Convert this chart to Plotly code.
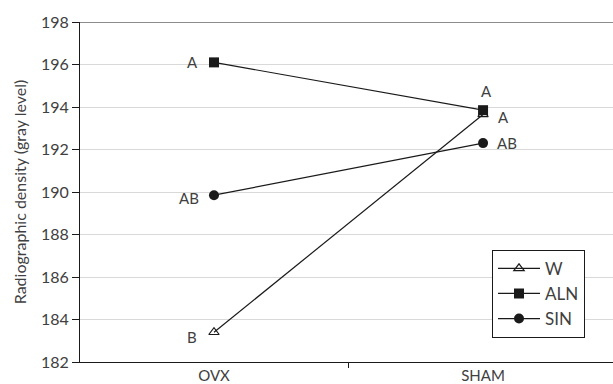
import plotly.graph_objects as go

groups = ["OVX", "SHAM"]
w_vals = [183.4, 193.65]
aln_vals = [196.1, 193.85]
sin_vals = [189.85, 192.3]
w_letters = ["B", "A"]
aln_letters = ["A", "A"]
sin_letters = ["AB", "AB"]
y_ticks = [182, 184, 186, 188, 190, 192, 194, 196, 198]

FONT = "Lato"
TXT = "#404040"
INK = "#1a1a1a"

fig = go.Figure()
fig.add_trace(go.Scatter(
    x=groups, y=w_vals, name="W", mode="lines+markers",
    line=dict(color=INK, width=1.2),
    marker=dict(symbol="triangle-up-open", size=9, color=INK, line=dict(width=1.2))))
fig.add_trace(go.Scatter(
    x=groups, y=aln_vals, name="ALN", mode="lines+markers",
    line=dict(color=INK, width=1.2),
    marker=dict(symbol="square", size=10, color=INK)))
fig.add_trace(go.Scatter(
    x=groups, y=sin_vals, name="SIN", mode="lines+markers",
    line=dict(color=INK, width=1.2),
    marker=dict(symbol="circle", size=10, color=INK)))

# letter labels (offsets are styling only)
offsets = {
    "W": [(-22, -5), (20, -3)],
    "ALN": [(-21, 0), (3, 19)],
    "SIN": [(-25, -3), (24, 0)],
}
series = {"W": (w_vals, w_letters), "ALN": (aln_vals, aln_letters), "SIN": (sin_vals, sin_letters)}
for key, (vals, letters) in series.items():
    for i, g in enumerate(groups):
        dx, dy = offsets[key][i]
        fig.add_annotation(x=g, y=vals[i], text=letters[i], showarrow=False,
                           xshift=dx, yshift=dy,
                           font=dict(family=FONT, size=15, color=TXT))

fig.add_shape(type="line", xref="paper", yref="y", x0=0, x1=1, y0=198, y1=198,
              line=dict(color=INK, width=1))

fig.update_layout(
    width=613, height=384,
    margin=dict(l=80, r=0, t=22, b=22),
    plot_bgcolor="white", paper_bgcolor="white",
    font=dict(family=FONT, color=TXT, size=15),
    showlegend=True,
    legend=dict(x=0.773, y=0.33, xanchor="left", yanchor="top",
                bordercolor=INK, borderwidth=1, bgcolor="white",
                font=dict(family=FONT, size=17, color=TXT),
                itemwidth=42, tracegroupgap=0),
    xaxis=dict(type="category", range=[-0.498, 1.483], showline=True,
               linecolor=INK, linewidth=1, ticks="outside", ticklen=5,
               tickcolor=INK, tickson="boundaries", showgrid=False,
               automargin=False, ticklabelstandoff=0,
               tickfont=dict(family=FONT, size=15, color=TXT)),
    yaxis=dict(range=[182, 198], tickvals=y_ticks, showline=True,
               linecolor=INK, linewidth=1, ticks="outside", ticklen=7,
               tickcolor=INK, showgrid=True, gridcolor="#d9d9d9",
               gridwidth=1, zeroline=False, automargin=False,
               tickfont=dict(family=FONT, size=16, color=TXT),
               title=dict(text="Radiographic density (gray level)",
                          font=dict(family=FONT, size=16, color=TXT), standoff=10)),
)

fig.write_html("out.html", config={"displayModeBar": False},
               post_script="document.body.style.margin='0';")
